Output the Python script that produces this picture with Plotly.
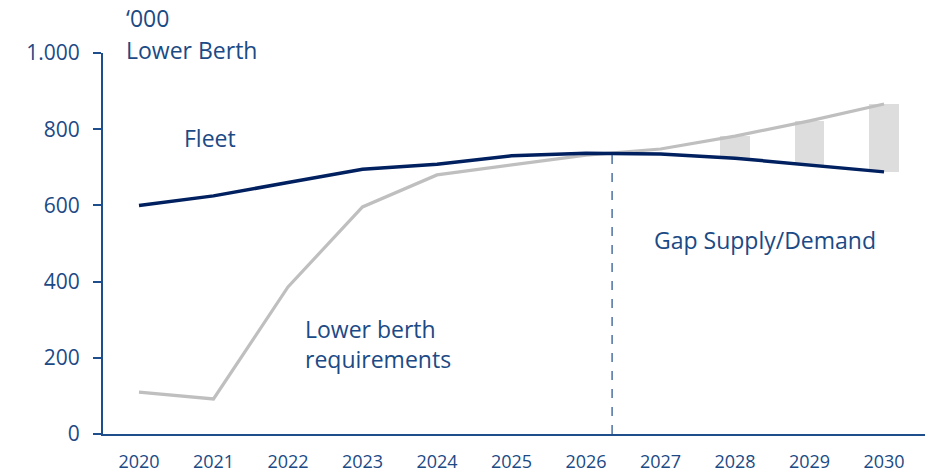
import plotly.graph_objects as go

years = [2020, 2021, 2022, 2023, 2024, 2025, 2026, 2027, 2028, 2029, 2030]
fleet = [600, 625, 660, 695, 708, 730, 737, 735, 724, 706, 688]
requirements = [110, 92, 386, 596, 680, 706, 732, 748, 782, 822, 866]
gap_years = [2028, 2029, 2030]
y_ticks = [0, 200, 400, 600, 800, 1000]
y_tick_text = ["0", "200", "400", "600", "800", "1.000"]
divider_year = 2026.35

NAVY = "#002060"
AXIS = "#1F4E8C"
TEXT = "#1B4A85"
GREY = "#BFBFBF"
BAR = "#DDDDDD"
FONT = "Open Sans"

gap_base = [fleet[years.index(y)] for y in gap_years]
gap_height = [requirements[years.index(y)] - fleet[years.index(y)] for y in gap_years]

fig = go.Figure()
fig.add_trace(go.Bar(x=gap_years, y=gap_height, base=gap_base, width=0.4,
                     marker=dict(color=BAR, line=dict(width=0)), showlegend=False,
                     hoverinfo="skip"))
fig.add_trace(go.Scatter(x=years, y=requirements, mode="lines",
                         line=dict(color=GREY, width=3.2), showlegend=False))
fig.add_trace(go.Scatter(x=years, y=fleet, mode="lines",
                         line=dict(color=NAVY, width=3.5), showlegend=False))

fig.add_shape(type="line", x0=divider_year, x1=divider_year, y0=0, y1=736,
              xref="x", yref="y", line=dict(color=AXIS, width=1.2, dash="dash"))

ann_font = dict(family=FONT, size=23, color=TEXT)
fig.add_annotation(x=0.026, y=1.092, xref="paper", yref="paper", text="‘000",
                   showarrow=False, xanchor="left", yanchor="middle", font=ann_font)
fig.add_annotation(x=0.026, y=1.008, xref="paper", yref="paper", text="Lower Berth",
                   showarrow=False, xanchor="left", yanchor="middle", font=ann_font)
fig.add_annotation(x=2020.58, y=777, xref="x", yref="y", text="Fleet",
                   showarrow=False, xanchor="left", yanchor="middle", font=ann_font)
fig.add_annotation(x=2026.886, y=509, xref="x", yref="y", text="Gap Supply/Demand",
                   showarrow=False, xanchor="left", yanchor="middle", font=ann_font)
fig.add_annotation(x=2022.2, y=237, xref="x", yref="y", text="Lower berth<br>requirements",
                   showarrow=False, xanchor="left", yanchor="middle", align="left",
                   font=ann_font)

fig.update_layout(
    width=930, height=472,
    margin=dict(l=103, r=5, t=53, b=38, autoexpand=False),
    paper_bgcolor="white", plot_bgcolor="white",
    font=dict(family=FONT, color=TEXT, size=17),
    bargap=0,
)
fig.update_xaxes(range=[2019.517, 2030.55], tickvals=years, ticktext=[str(y) for y in years],
                 showline=True, linecolor=AXIS, linewidth=2, showgrid=False, zeroline=False,
                 automargin=False, ticks="", ticklabelstandoff=10,
                 tickfont=dict(family=FONT, size=18, color=TEXT))
fig.update_yaxes(range=[0, 1000], tickvals=y_ticks, ticktext=y_tick_text,
                 showline=True, linecolor=AXIS, linewidth=2, showgrid=False, zeroline=False,
                 automargin=False, ticks="outside", ticklen=8, tickcolor=AXIS, tickwidth=2,
                 ticklabelstandoff=9, tickfont=dict(family=FONT, size=21, color=TEXT))

fig.write_html("out.html")
